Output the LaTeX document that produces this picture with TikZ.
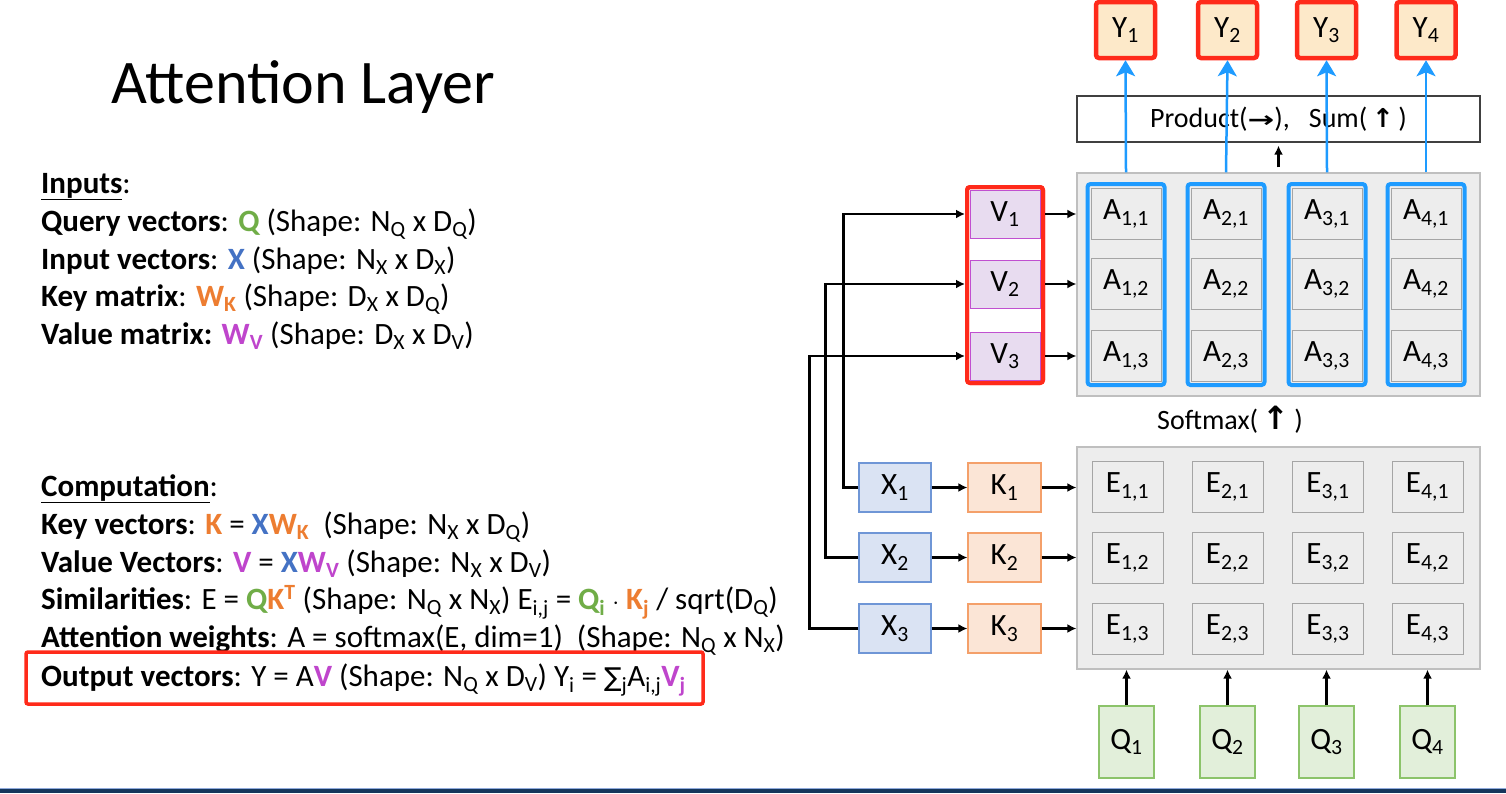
\documentclass[tikz,border=0pt]{standalone}
\usepackage{fontspec}
\setmainfont{Carlito}
\newfontfamily\dejavu{DejaVu Sans}
\usepackage{graphicx}
\usetikzlibrary{arrows.meta}
\definecolor{cgreen}{HTML}{70AD47}
\definecolor{cblue}{HTML}{4472C4}
\definecolor{corange}{HTML}{ED7D31}
\definecolor{cpurple}{HTML}{BF45CC}
\definecolor{cred}{HTML}{FF2A1A}
\definecolor{carrow}{HTML}{1E9BFF}
\definecolor{gbox}{HTML}{EDEDED}
\definecolor{gline}{HTML}{BFBFBF}
\definecolor{cline}{HTML}{A5A5A5}
\definecolor{xfill}{HTML}{DAE3F3}
\definecolor{xline}{HTML}{6F96D6}
\definecolor{kfill}{HTML}{FBE5D6}
\definecolor{kline}{HTML}{F4A06A}
\definecolor{qfill}{HTML}{E2EFDA}
\definecolor{qline}{HTML}{8CC36A}
\definecolor{vfill}{HTML}{E8DCF0}
\definecolor{vline}{HTML}{C050D0}
\definecolor{yfill}{HTML}{FDE9C9}
\definecolor{navy}{HTML}{16365C}
\definecolor{navyl}{HTML}{8FAADC}
\newcommand{\sbs}[1]{\textsubscript{#1}}
\newcommand{\sps}[1]{\textsuperscript{#1}}
\newcommand{\ftxt}{\fontsize{31}{36}\selectfont}
\newcommand{\fcell}{\fontsize{31}{36}\selectfont}
\newcommand{\flab}{\fontsize{28}{33}\selectfont}
\begin{document}
\begin{tikzpicture}[x=1pt,y=-1pt,
  txt/.style={anchor=base west,inner sep=0pt,font=\ftxt},
  bigbox/.style={draw=gline,fill=gbox,line width=1.2pt,minimum width=403pt,inner sep=0pt},
  cellA/.style={draw=cline,fill=gbox,line width=1pt,minimum width=70pt,minimum height=51pt,inner sep=0pt,font=\fcell},
  cellE/.style={draw=cline,fill=gbox,line width=1pt,minimum width=71pt,minimum height=51pt,inner sep=0pt,font=\fcell},
  acolbox/.style={draw=carrow,line width=4pt,rounded corners=3pt,minimum width=77pt,minimum height=201pt,inner sep=0pt},
  ybox/.style={draw=cred,fill=yfill,line width=4.5pt,rounded corners=3pt,minimum width=59pt,minimum height=56pt,inner sep=0pt,font=\fcell},
  xbox/.style={draw=xline,fill=xfill,line width=1.2pt,minimum width=72pt,minimum height=49pt,inner sep=0pt,font=\fcell},
  kbox/.style={draw=kline,fill=kfill,line width=1.2pt,minimum width=73pt,minimum height=49pt,inner sep=0pt,font=\fcell},
  qbox/.style={draw=qline,fill=qfill,line width=1.2pt,minimum width=55pt,minimum height=72pt,inner sep=0pt,font=\fcell},
  vcell/.style={draw=vline,fill=vfill,line width=1pt,minimum width=70pt,minimum height=48pt,inner sep=0pt,font=\fcell},
  arr/.style={line width=2.5pt,-{Latex[length=9pt,width=9pt]}},
  barr/.style={draw=carrow,line width=2.5pt,-{Stealth[length=16pt,width=19pt,inset=4pt]}}
]
\useasboundingbox (0,0) rectangle (1506,793);
\fill[white] (0,0) rectangle (1506,793);

% bottom bar
\fill[navy] (0,788) rectangle (1506,793);
\draw[navyl,line width=1pt] (0,788) -- (1506,788);

% title
\node[anchor=base west,inner sep=0pt,font=\fontsize{62}{68}\selectfont] (title) at (111,103) {Attention Layer};

% inputs text
\node[txt] (tin) at (41,193) {\textbf{\underline{Inputs}}:};
\node[txt] (tq) at (41,231) {\textbf{Query vectors}: \textbf{\textcolor{cgreen}{Q}} (Shape: N\sbs{Q} x D\sbs{Q})};
\node[txt] (tx) at (41,269) {\textbf{Input vectors}: \textbf{\textcolor{cblue}{X}} (Shape: N\sbs{X} x D\sbs{X})};
\node[txt] (tk) at (41,306) {\textbf{Key matrix}: \textbf{\textcolor{corange}{W\sbs{K}}} (Shape: D\sbs{X} x D\sbs{Q})};
\node[txt] (tv) at (41,344) {\textbf{Value matrix:} \textbf{\textcolor{cpurple}{W\sbs{V}}} (Shape: D\sbs{X} x D\sbs{V})};

% computation text
\node[txt] (tc) at (41,496) {\textbf{\underline{Computation}}:};
\node[txt] (tc1) at (41,534) {\textbf{Key vectors}: \textbf{\textcolor{corange}{K}} = \textbf{\textcolor{cblue}{X}\textcolor{corange}{W\sbs{K}}}\ \ (Shape: N\sbs{X} x D\sbs{Q})};
\node[txt] (tc2) at (41,572) {\textbf{Value Vectors}: \textbf{\textcolor{cpurple}{V}} = \textbf{\textcolor{cblue}{X}\textcolor{cpurple}{W\sbs{V}}} (Shape: N\sbs{X} x D\sbs{V})};
\node[txt] (tc3) at (41,609) {\textbf{Similarities}: E = \textbf{\textcolor{cgreen}{Q}\textcolor{corange}{K\sps{T}}} (Shape: N\sbs{Q} x N\sbs{X}) E\sbs{i,j} = \textbf{\textcolor{cgreen}{Q\sbs{i}}} $\cdot$ \textbf{\textcolor{corange}{K\sbs{j}}} / sqrt(D\sbs{Q})};
\node[txt] (tc4) at (41,647) {\textbf{Attention weights}: A = softmax(E, dim=1)\ \ (Shape: N\sbs{Q} x N\sbs{X})};
\node[txt] (tc5) at (41,686) {\textbf{Output vectors}: Y = A\textbf{\textcolor{cpurple}{V}} (Shape: N\sbs{Q} x D\sbs{V}) Y\sbs{i} = {\dejavu\fontsize{26}{30}\selectfont ∑}\sbs{j}A\sbs{i,j}\textbf{\textcolor{cpurple}{V\sbs{j}}}};
\node[draw=cred,line width=3.5pt,rounded corners=2pt,minimum width=677pt,minimum height=52pt,inner sep=0pt] (outbox) at (364.5,678) {};

% big gray boxes
\node[bigbox,minimum height=223pt] (abox) at (1278.5,284.5) {};
\node[bigbox,minimum height=222pt] (ebox) at (1278.5,558) {};

% A columns and cells
\foreach \i/\x in {1/1126,2/1226,3/1327,4/1426} {
  \node[acolbox] (acol\i) at (\x,284.5) {};
  \foreach \j/\y in {1/214,2/284,3/356}
    \node[cellA] (a\i\j) at (\x,\y) {A\sbs{\i,\j}};
}

% E cells
\foreach \i/\x in {1/1127.5,2/1227.5,3/1328,4/1427.5} {
  \foreach \j/\y in {1/487,2/558,3/629}
    \node[cellE] (e\i\j) at (\x,\y) {E\sbs{\i,\j}};
}

% Q boxes
\foreach \i/\x in {1/1126.5,2/1227.5,3/1326.5,4/1427.5}
  \node[qbox] (q\i) at (\x,742) {Q\sbs{\i}};

% X and K boxes
\foreach \j/\y in {1/487.5,2/557.5,3/628.5} {
  \node[xbox] (x\j) at (895,\y) {X\sbs{\j}};
  \node[kbox] (k\j) at (1004.5,\y) {K\sbs{\j}};
}

% V column
\node[draw=cred,line width=4pt,rounded corners=3pt,minimum width=76pt,minimum height=196pt,inner sep=0pt,fill=white] (vbox) at (1005,285) {};
\foreach \j/\y in {1/214,2/284,3/356}
  \node[vcell] (v\j) at (1005,\y) {V\sbs{\j}};
\node[draw=cred,line width=4pt,rounded corners=3pt,minimum width=76pt,minimum height=196pt,inner sep=0pt] (vframe) at (1005,285) {};

% product box
\node[draw=black!75,line width=1.2pt,minimum width=403pt,minimum height=46pt,inner sep=0pt,font=\flab] (prod) at (1278.5,119)
  {Product(\scalebox{1.45}[1]{\dejavu\bfseries\fontsize{22}{26}\selectfont →}),\ \ \ Sum(\,{\dejavu\bfseries\fontsize{26}{30}\selectfont ↑}\,)};

% softmax label
\node[font=\flab,inner sep=0pt] (smx) at (1230,420) {Softmax(\,{\dejavu\bfseries\fontsize{32}{36}\selectfont ↑}\,)};

% Y boxes
\foreach \i/\x in {1/1125.5,2/1227.5,3/1326.5,4/1426}
  \node[ybox] (y\i) at (\x,30) {Y\sbs{\i}};

% arrows X -> K -> E
\foreach \j in {1,2,3} {
  \draw[arr] (x\j.east) -- (k\j.west);
  \draw[arr] (k\j.east) -- (ebox.west |- k\j);
  \draw[arr] (vbox.east |- v\j) -- (abox.west |- v\j);
}
% X -> V
\draw[arr] (x1.west) -- ++(-15,0) |- (vbox.west |- v1);
\draw[arr] (x2.west) -- ++(-33,0) |- (vbox.west |- v2);
\draw[arr] (x3.west) -- ++(-49,0) |- (vbox.west |- v3);

% Q -> E
\foreach \i in {1,2,3,4}
  \draw[arr] (q\i.north) -- (ebox.south -| q\i);

% A -> product
\draw[arr,shorten <=5pt,shorten >=3pt] (abox.north) -- (prod.south);

% blue arrows
\foreach \i in {1,2,3,4}
  \draw[barr] (acol\i.north |- abox.north) -- (y\i.south);
\end{tikzpicture}
\end{document}
